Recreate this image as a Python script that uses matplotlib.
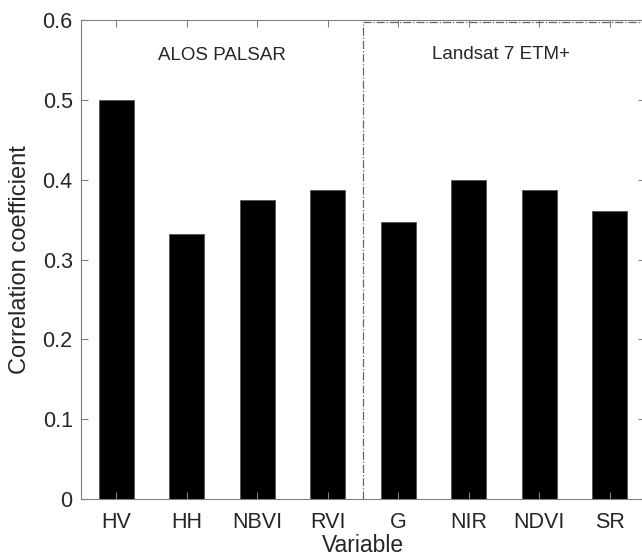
import matplotlib
matplotlib.use('Agg')
import matplotlib.pyplot as plt
import numpy as np

plt.rcParams['font.family'] = ['Liberation Sans', 'DejaVu Sans']

variables = ['HV', 'HH', 'NBVI', 'RVI', 'G', 'NIR', 'NDVI', 'SR']
corr = [0.500, 0.332, 0.375, 0.387, 0.347, 0.400, 0.387, 0.361]
groups = ['ALOS PALSAR', 'Landsat 7 ETM+']
y_ticks = [0, 0.1, 0.2, 0.3, 0.4, 0.5, 0.6]

axis_grey = '#808080'
text_dark = '#262626'

fig = plt.figure(figsize=(6.42, 5.6), dpi=100)
# right edge of the axes sits just past the image border, like the source
ax = fig.add_axes([81 / 642, 1 - 499 / 560, 564 / 642, 479 / 560])

x = np.arange(1, len(variables) + 1)
ax.bar(x, corr, width=0.5, color='black', edgecolor='#555555', linewidth=0.6)

ax.set_xlim(0.5, len(variables) + 0.5)
ax.set_ylim(0, 0.6)
ax.set_xticks(x)
ax.set_xticklabels(variables)
ax.set_yticks(y_ticks)
ax.set_yticklabels(['0', '0.1', '0.2', '0.3', '0.4', '0.5', '0.6'])

ax.tick_params(direction='in', top=True, right=True, length=5, width=0.8,
               color=axis_grey, labelsize=15.5, labelcolor=text_dark)
ax.tick_params(axis='x', pad=9)
ax.tick_params(axis='y', pad=6)
for s in ax.spines.values():
    s.set_color(axis_grey)
    s.set_linewidth(0.8)

ax.set_xlabel('Variable', fontsize=16.5, color=text_dark, labelpad=1)
ax.set_ylabel('Correlation coefficient', fontsize=17, color=text_dark, labelpad=8)

# dash-dot frame around the Landsat block
sep = 4.5
ax.plot([sep, sep], [0, 0.598], ls='-.', color='#666666', lw=0.9)
ax.plot([sep, len(variables) + 0.5], [0.598, 0.598], ls='-.', color='#666666', lw=0.9)

ax.text(2.5, 0.555, groups[0], ha='center', va='center', fontsize=13.5, color=text_dark)
ax.text(6.46, 0.557, groups[1], ha='center', va='center', fontsize=13.5, color=text_dark)

fig.savefig('out.png', dpi=100)
